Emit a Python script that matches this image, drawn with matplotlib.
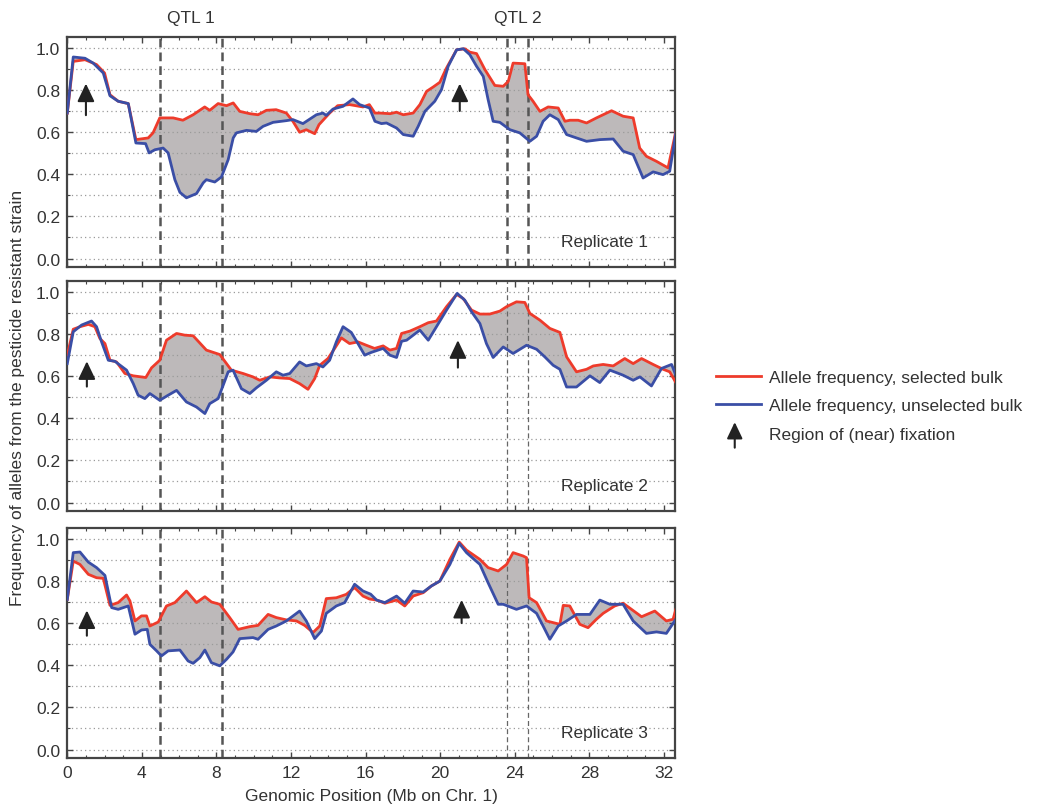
import numpy as np
import matplotlib
matplotlib.use("Agg")
import matplotlib.pyplot as plt
import matplotlib.ticker as mticker
from matplotlib.lines import Line2D
from matplotlib.patches import FancyArrowPatch
from matplotlib.legend_handler import HandlerBase

plt.rcParams['font.family'] = ['Liberation Sans', 'DejaVu Sans']

# ---- data (Mb, allele frequency) ----
rep1_sel_x = [0, 0.32, 0.95, 1.57, 2.0, 2.29, 2.73, 3.27, 3.68, 4.34, 4.6, 4.96, 5.68, 6.2, 6.75,
              7.37, 7.64, 8.09, 8.54, 8.9, 9.25, 9.79, 10.23, 10.68, 11.2, 11.75, 12.1, 12.46, 12.82,
              13.27, 13.5, 14.07, 14.5, 15.14, 15.86, 16.2, 16.5, 16.77, 17.31, 17.66, 18.02, 18.55,
              18.91, 19.27, 19.63, 19.98, 20.34, 20.88, 21.32, 21.59, 21.95, 22.4, 22.93, 23.38, 23.65,
              23.91, 24.54, 24.71, 24.98, 25.35, 25.79, 26.33, 26.69, 26.96, 27.4, 27.85, 28.38, 29.19,
              29.81, 30.35, 30.7, 31.06, 31.6, 32.22, 32.64]
rep1_sel_y = [0.69, 0.935, 0.943, 0.92, 0.88, 0.777, 0.746, 0.735, 0.564, 0.572, 0.596, 0.667, 0.667, 0.656, 0.682,
              0.719, 0.703, 0.735, 0.725, 0.738, 0.698, 0.687, 0.682, 0.703, 0.706, 0.69, 0.651, 0.599, 0.611,
              0.592, 0.635, 0.69, 0.725, 0.73, 0.719, 0.73, 0.69, 0.69, 0.687, 0.694, 0.682, 0.69,
              0.73, 0.793, 0.814, 0.836, 0.904, 0.99, 0.995, 0.979, 0.972, 0.896, 0.821, 0.817, 0.84,
              0.927, 0.924, 0.777, 0.746, 0.698, 0.719, 0.714, 0.651, 0.656, 0.656, 0.643, 0.667, 0.701,
              0.675, 0.667, 0.524, 0.485, 0.461, 0.43, 0.603]
rep1_uns_x = [0, 0.32, 0.95, 1.39, 1.93, 2.29, 2.73, 3.27, 3.68, 4.2, 4.39, 4.7, 5.14, 5.41, 5.77,
              6.04, 6.39, 6.93, 7.29, 7.46, 7.91, 8.27, 8.63, 8.9, 9.07, 9.61, 10.14, 10.5, 11.04,
              11.75, 12.1, 12.64, 13.36, 13.71, 13.89, 14.25, 14.79, 15.32, 15.68, 16.21, 16.5, 16.85,
              17.12, 17.66, 18.02, 18.55, 18.82, 19.18, 19.71, 20.07, 20.43, 20.88, 21.24, 21.59, 21.95,
              22.31, 22.57, 22.84, 23.2, 23.74, 24.27, 24.81, 25.17, 25.52, 25.88, 26.33, 26.78, 27.31,
              27.85, 28.56, 29.28, 29.81, 30.35, 30.88, 31.42, 31.95, 32.31, 32.64]
rep1_uns_y = [0.69, 0.956, 0.95, 0.927, 0.88, 0.772, 0.746, 0.735, 0.548, 0.545, 0.501, 0.516, 0.524, 0.501, 0.374,
              0.314, 0.288, 0.308, 0.359, 0.374, 0.363, 0.387, 0.469, 0.572, 0.596, 0.608, 0.603, 0.627, 0.646,
              0.654, 0.659, 0.64, 0.682, 0.69, 0.679, 0.709, 0.722, 0.757, 0.73, 0.714, 0.651, 0.64,
              0.643, 0.619, 0.588, 0.58, 0.627, 0.698, 0.746, 0.801, 0.912, 0.99, 0.995, 0.967, 0.912,
              0.864, 0.754, 0.651, 0.646, 0.611, 0.596, 0.556, 0.58, 0.651, 0.682, 0.659, 0.588, 0.572,
              0.556, 0.564, 0.567, 0.509, 0.493, 0.382, 0.411, 0.398, 0.414, 0.596]

rep2_sel_x = [0, 0.32, 0.68, 1.13, 1.48, 1.75, 2.02, 2.29, 2.64, 3.09, 3.54, 4.21, 4.52, 4.96, 5.32,
              5.86, 6.3, 6.75, 7.46, 8.18, 8.54, 8.8, 9.43, 9.96, 10.32, 10.86, 11.39, 11.93, 12.46,
              12.91, 13.27, 13.54, 13.98, 14.34, 14.7, 15.14, 15.59, 16.04, 16.48, 16.94, 17.3, 17.66,
              17.93, 18.37, 18.91, 19.36, 19.8, 20.34, 20.88, 21.23, 21.68, 22.13, 22.66, 23.2, 23.56,
              24.09, 24.54, 24.81, 25.35, 25.88, 26.42, 26.78, 27.31, 27.85, 28.21, 28.74, 29.28, 29.9,
              30.35, 30.8, 31.42, 31.96, 32.31, 32.64]
rep2_sel_y = [0.699, 0.822, 0.834, 0.845, 0.834, 0.778, 0.754, 0.675, 0.667, 0.612, 0.601, 0.593, 0.639, 0.675, 0.77,
              0.802, 0.794, 0.791, 0.723, 0.702, 0.659, 0.628, 0.612, 0.596, 0.58, 0.596, 0.591, 0.588, 0.564,
              0.537, 0.588, 0.651, 0.683, 0.731, 0.781, 0.754, 0.762, 0.746, 0.731, 0.743, 0.723, 0.731,
              0.802, 0.813, 0.834, 0.853, 0.861, 0.929, 0.987, 0.968, 0.913, 0.894, 0.894, 0.908, 0.929,
              0.952, 0.949, 0.897, 0.865, 0.826, 0.807, 0.691, 0.62, 0.632, 0.648, 0.655, 0.648, 0.683,
              0.659, 0.683, 0.655, 0.632, 0.62, 0.569]
rep2_uns_x = [0, 0.32, 0.77, 1.3, 1.57, 1.84, 2.2, 2.55, 3.18, 3.54, 3.8, 4.16, 4.43, 4.96, 5.41,
              5.86, 6.39, 6.93, 7.38, 7.64, 8.09, 8.36, 8.63, 8.89, 9.34, 9.79, 10.14, 10.68, 11.21,
              11.57, 11.93, 12.46, 12.82, 13.36, 13.71, 14.07, 14.43, 14.79, 15.23, 15.59, 15.95, 16.3,
              16.94, 17.3, 17.66, 17.93, 18.2, 18.91, 19.36, 19.8, 20.34, 20.91, 21.32, 21.68, 22.13,
              22.48, 22.84, 23.38, 23.91, 24.63, 25.17, 25.61, 26.06, 26.42, 26.78, 27.31, 28.03, 28.56,
              29.1, 29.81, 30.35, 30.71, 31.33, 31.87, 32.41, 32.64]
rep2_uns_y = [0.659, 0.81, 0.842, 0.861, 0.834, 0.762, 0.675, 0.67, 0.628, 0.564, 0.509, 0.493, 0.517, 0.485, 0.509,
              0.532, 0.477, 0.453, 0.422, 0.469, 0.493, 0.556, 0.62, 0.628, 0.54, 0.517, 0.544, 0.58, 0.62,
              0.604, 0.612, 0.667, 0.648, 0.659, 0.643, 0.675, 0.762, 0.834, 0.807, 0.754, 0.699, 0.712,
              0.731, 0.699, 0.688, 0.765, 0.77, 0.818, 0.77, 0.834, 0.913, 0.992, 0.96, 0.905, 0.849,
              0.754, 0.688, 0.738, 0.707, 0.746, 0.727, 0.691, 0.651, 0.632, 0.548, 0.548, 0.601, 0.569,
              0.628, 0.604, 0.58, 0.596, 0.553, 0.636, 0.655, 0.604]

rep3_sel_x = [0, 0.32, 0.68, 1.13, 1.57, 1.93, 2.29, 2.73, 3.18, 3.36, 3.63, 3.98, 4.25, 4.43, 4.88,
              5.32, 5.77, 6.39, 6.93, 7.38, 7.73, 8.18, 8.71, 9.16, 9.79, 10.23, 10.77, 11.21, 11.75,
              12.29, 12.73, 13.18, 13.54, 13.89, 14.43, 14.96, 15.41, 15.86, 16.21, 16.59, 17.03, 17.66,
              18.1, 18.55, 19.09, 19.53, 19.98, 20.52, 21.02, 21.41, 22.13, 22.57, 23.11, 23.56, 23.91,
              24.45, 24.63, 24.77, 25.17, 25.7, 26.42, 26.6, 26.95, 27.49, 27.93, 28.38, 28.74, 29.36,
              29.81, 30.26, 30.8, 31.51, 32.13, 32.49, 32.64]
rep3_sel_y = [0.712, 0.894, 0.878, 0.831, 0.815, 0.812, 0.684, 0.697, 0.733, 0.705, 0.61, 0.634, 0.634, 0.586, 0.605,
              0.681, 0.697, 0.752, 0.697, 0.725, 0.7, 0.689, 0.626, 0.57, 0.583, 0.589, 0.641, 0.626, 0.615,
              0.61, 0.589, 0.555, 0.586, 0.716, 0.72, 0.736, 0.768, 0.728, 0.714, 0.709, 0.694, 0.709,
              0.681, 0.728, 0.744, 0.776, 0.799, 0.902, 0.984, 0.946, 0.902, 0.863, 0.847, 0.878, 0.934,
              0.918, 0.91, 0.72, 0.697, 0.61, 0.594, 0.684, 0.681, 0.594, 0.578, 0.618, 0.646, 0.681,
              0.694, 0.665, 0.63, 0.657, 0.61, 0.618, 0.665]
rep3_uns_x = [0, 0.32, 0.68, 1.13, 1.57, 2.02, 2.38, 2.73, 3.27, 3.63, 3.98, 4.29, 4.43, 4.79, 5.05,
              5.41, 6.04, 6.48, 6.75, 7.11, 7.38, 7.73, 8.18, 8.54, 8.89, 9.25, 9.96, 10.23, 10.77,
              11.21, 11.75, 12.46, 12.82, 13.27, 13.63, 13.89, 14.43, 14.88, 15.41, 15.86, 16.27, 16.59,
              17.03, 17.66, 18.1, 18.55, 19.09, 19.53, 19.98, 20.52, 21.02, 21.41, 22.13, 22.57, 23.11,
              23.38, 24.09, 24.63, 25.17, 25.52, 25.88, 26.33, 26.78, 27.31, 28.03, 28.56, 29.1, 29.81,
              30.35, 31.06, 31.6, 32.13, 32.64]
rep3_uns_y = [0.712, 0.934, 0.937, 0.889, 0.863, 0.826, 0.673, 0.665, 0.681, 0.547, 0.567, 0.57, 0.499, 0.468, 0.444,
              0.468, 0.472, 0.42, 0.409, 0.436, 0.472, 0.412, 0.397, 0.428, 0.463, 0.526, 0.531, 0.523, 0.57,
              0.586, 0.61, 0.657, 0.61, 0.526, 0.562, 0.646, 0.681, 0.697, 0.784, 0.752, 0.737, 0.709,
              0.697, 0.728, 0.694, 0.752, 0.747, 0.776, 0.799, 0.878, 0.978, 0.934, 0.878, 0.791, 0.689,
              0.689, 0.665, 0.681, 0.646, 0.586, 0.523, 0.586, 0.61, 0.641, 0.641, 0.709, 0.689, 0.689,
              0.61, 0.551, 0.558, 0.551, 0.618]

qtl1 = [4.97, 8.3]
qtl2 = [23.6, 24.7]
qtl_names = ['QTL 1', 'QTL 2']
replicates = ['Replicate 1', 'Replicate 2', 'Replicate 3']

# fixation arrows: x position, tail y, head y per replicate
arrow_x = [[1.0, 21.05], [1.05, 20.95], [1.05, 21.15]]
arrow_lo = [[0.68, 0.70], [0.55, 0.64], [0.54, 0.60]]
arrow_hi = [[0.83, 0.83], [0.67, 0.77], [0.66, 0.71]]

sel = [(rep1_sel_x, rep1_sel_y), (rep2_sel_x, rep2_sel_y), (rep3_sel_x, rep3_sel_y)]
uns = [(rep1_uns_x, rep1_uns_y), (rep2_uns_x, rep2_uns_y), (rep3_uns_x, rep3_uns_y)]

RED = '#ee3b2b'
BLUE = '#3a4ea6'
FILL = '#bdb9ba'
TXT = '#333333'
FRAME = '#444444'
ARROW = '-|>,head_length=0.42,head_width=0.2'


class ArrowHandler(HandlerBase):
    def create_artists(self, legend, orig_handle, xdescent, ydescent,
                       width, height, fontsize, trans):
        cx = width * 0.42 - xdescent
        a = FancyArrowPatch((cx, -ydescent - 0.75 * height), (cx, height * 1.35 - ydescent),
                            arrowstyle=ARROW, mutation_scale=fontsize * 1.9,
                            lw=1.5, color='#222222', transform=trans,
                            shrinkA=0, shrinkB=0)
        return [a]


fig = plt.figure(figsize=(10.48, 8.12), dpi=100)
bottoms = [0.670, 0.3695, 0.0653]
axes = []
for i in range(3):
    ax = fig.add_axes([0.0642, bottoms[i], 0.5800, 0.283])
    axes.append(ax)
    xs, ys = sel[i]
    xu, yu = uns[i]
    # shaded area between the two bulks
    ax.fill(np.r_[xs, xu[::-1]], np.r_[ys, yu[::-1]], color=FILL, lw=0, zorder=1)
    ax.plot(xs, ys, color=RED, lw=2.0, zorder=3, solid_joinstyle='round')
    ax.plot(xu, yu, color=BLUE, lw=2.0, zorder=4, solid_joinstyle='round')

    for q in qtl1:
        ax.axvline(q, color='#555555', ls=(0, (3.5, 2)), lw=1.8, zorder=2)
    for q in qtl2:
        if i == 0:
            ax.axvline(q, color='#555555', ls=(0, (3.5, 2)), lw=1.8, zorder=2)
        else:
            ax.axvline(q, color='#666666', ls=(0, (4, 2.5)), lw=0.9, zorder=2)

    for ax_x, lo, hi in zip(arrow_x[i], arrow_lo[i], arrow_hi[i]):
        ax.annotate('', xy=(ax_x, hi), xytext=(ax_x, lo),
                    arrowprops=dict(arrowstyle=ARROW, color='#222222', lw=1.5,
                                    mutation_scale=26, shrinkA=0, shrinkB=0), zorder=5)

    ax.set_xlim(0, 32.6)
    ax.set_ylim(-0.04, 1.05)
    ax.xaxis.set_major_locator(mticker.MultipleLocator(4))
    ax.xaxis.set_minor_locator(mticker.MultipleLocator(1))
    ax.yaxis.set_major_locator(mticker.MultipleLocator(0.2))
    ax.yaxis.set_minor_locator(mticker.MultipleLocator(0.1))
    ax.yaxis.set_major_formatter(mticker.FormatStrFormatter('%.1f'))
    ax.grid(True, axis='y', which='both', color='#9a9a9a', ls=(0, (1, 2.5)), lw=0.9, zorder=0)
    ax.tick_params(which='both', direction='in', top=True, right=True, colors=FRAME,
                   labelcolor=TXT, labelsize=12.5)
    ax.tick_params(which='major', length=4, width=1, pad=5)
    ax.tick_params(which='minor', length=2.5, width=0.8)
    for s in ax.spines.values():
        s.set_color(FRAME)
        s.set_linewidth(1.6)
    if i < 2:
        ax.tick_params(labelbottom=False)
    ax.text(0.955, 0.11, replicates[i], transform=ax.transAxes, ha='right', va='center',
            fontsize=12.5, color=TXT)

axes[2].set_xlabel('Genomic Position (Mb on Chr. 1)', fontsize=12.5, color=TXT, labelpad=6)

# QTL headers above the first panel
axes[0].text(np.mean(qtl1), 1.085, qtl_names[0], transform=axes[0].get_xaxis_transform(),
             ha='center', va='center', fontsize=12.5, color=TXT)
axes[0].text(np.mean(qtl2), 1.085, qtl_names[1], transform=axes[0].get_xaxis_transform(),
             ha='center', va='center', fontsize=12.5, color=TXT)

fig.text(0.017, 0.51, 'Frequency of alleles from the pesticide resistant strain', rotation=90,
         ha='center', va='center', fontsize=12.5, color=TXT)

arrow_handle = FancyArrowPatch((0, 0), (0, 1))
handles = [Line2D([], [], color=RED, lw=2.0),
           Line2D([], [], color=BLUE, lw=2.0),
           arrow_handle]
labels = ['Allele frequency, selected bulk', 'Allele frequency, unselected bulk',
          'Region of (near) fixation']
leg = fig.legend(handles, labels, handler_map={arrow_handle: ArrowHandler()},
                 loc='center left', bbox_to_anchor=(0.683, 0.499), frameon=False,
                 fontsize=12.5, handlelength=2.6, handletextpad=0.45, labelspacing=0.75,
                 borderpad=0, borderaxespad=0)
for t in leg.get_texts():
    t.set_color(TXT)

fig.savefig('out.png', dpi=100)
